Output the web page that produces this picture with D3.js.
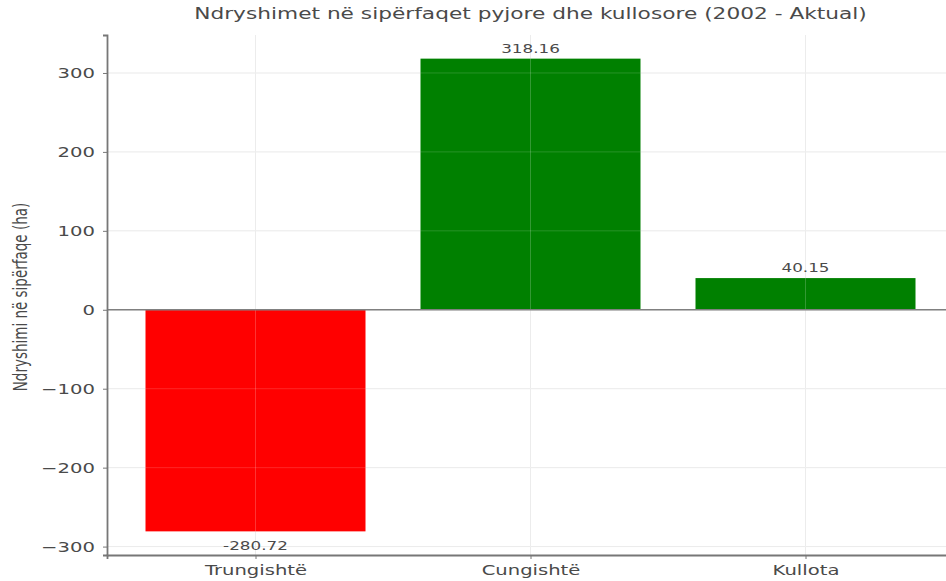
<!DOCTYPE html>
<html>
<head>
<meta charset="utf-8">
<script src="https://cdn.jsdelivr.net/npm/d3@7"></script>
<style>
  body { margin: 0; background: #fff; }
  text { font-family: "DejaVu Sans", sans-serif; fill: #4a4a4a; }
</style>
</head>
<body>
<svg id="chart" width="946" height="581"></svg>
<script>
// data
var categories = ["Trungishtë", "Cungishtë", "Kullota"];
var values = [-280.72, 318.16, 40.15];
var barColors = ["#ff0000", "#008000", "#008000"];
var yTicks = [-300, -200, -100, 0, 100, 200, 300];

var svg = d3.select("#chart");
// plot box (the source image is stretched sideways, so text gets sx)
var pl = 107, pr = 954, pt = 35, pb = 555, sx = 1.4;

// matplotlib-like auto margins (5%)
var lo = d3.min(values), hi = d3.max(values), pad = (hi - lo) * 0.05;
var y = d3.scaleLinear().domain([lo - pad, hi + pad]).range([pb, pt]);
var x = d3.scaleLinear().domain([-0.54, 2.54]).range([pl, pr]);
var bw = x(0.8) - x(0);

// grid
svg.append("g").selectAll("line").data(yTicks).enter().append("line")
  .attr("x1", pl).attr("x2", pr)
  .attr("y1", function(d) { return y(d); }).attr("y2", function(d) { return y(d); })
  .attr("stroke", "#e8e8e8").attr("stroke-width", 1);
svg.append("g").selectAll("line").data(categories).enter().append("line")
  .attr("y1", pt).attr("y2", pb)
  .attr("x1", function(d, i) { return x(i); }).attr("x2", function(d, i) { return x(i); })
  .attr("stroke", "#e8e8e8").attr("stroke-width", 1);

// bars
svg.append("g").selectAll("rect").data(values).enter().append("rect")
  .attr("x", function(d, i) { return x(i) - bw / 2; })
  .attr("width", bw)
  .attr("y", function(d) { return y(Math.max(0, d)); })
  .attr("height", function(d) { return Math.abs(y(d) - y(0)); })
  .attr("fill", function(d, i) { return barColors[i]; });

// faint grid showing through the bars
svg.append("g").selectAll("line").data(categories).enter().append("line")
  .attr("y1", pt).attr("y2", pb)
  .attr("x1", function(d, i) { return x(i); }).attr("x2", function(d, i) { return x(i); })
  .attr("stroke", "#ffffff").attr("stroke-opacity", 0.2);
svg.append("g").selectAll("line").data(yTicks).enter().append("line")
  .attr("x1", pl).attr("x2", pr)
  .attr("y1", function(d) { return y(d); }).attr("y2", function(d) { return y(d); })
  .attr("stroke", "#ffffff").attr("stroke-opacity", 0.15);

// zero line
svg.append("line").attr("x1", pl).attr("x2", pr)
  .attr("y1", y(0)).attr("y2", y(0))
  .attr("stroke", "#808080").attr("stroke-width", 1.6);

// value labels
svg.append("g").selectAll("text").data(values).enter().append("text")
  .attr("transform", function(d, i) {
    var ty = d >= 0 ? y(d) - 6 : y(d) + 19;
    return "translate(" + x(i) + "," + ty + ") scale(" + sx + ",1)";
  })
  .attr("text-anchor", "middle")
  .attr("font-size", 12)
  .text(function(d) { return d.toFixed(2); });

// axes
var yAxis = d3.axisLeft(y).tickValues(yTicks).tickSize(4)
  .tickFormat(function(d) { return d < 0 ? "\u2212" + Math.abs(d) : d; });
var gy = svg.append("g").attr("transform", "translate(" + pl + ",0)").call(yAxis);
gy.select(".domain").attr("stroke", "#777").attr("stroke-width", 1.8);
gy.selectAll(".tick line").attr("stroke", "#777");
gy.selectAll(".tick text").attr("font-size", 14).attr("font-family", "DejaVu Sans")
  .style("fill", "#4a4a4a").attr("x", -12 / sx).attr("transform", "scale(" + sx + ",1)");

var xAxis = d3.axisBottom(x).tickValues([0, 1, 2]).tickSize(4).tickPadding(6)
  .tickFormat(function(d) { return categories[d]; });
var gx = svg.append("g").attr("transform", "translate(0," + pb + ")").call(xAxis);
gx.select(".domain").attr("stroke", "#777").attr("stroke-width", 1.8);
gx.selectAll(".tick line").attr("stroke", "#777");
gx.selectAll(".tick text").attr("font-size", 14).attr("font-family", "DejaVu Sans")
  .style("fill", "#4a4a4a").attr("transform", "scale(" + sx + ",1)");

// title and y label
svg.append("text")
  .attr("transform", "translate(" + (pl + pr) / 2 + ",19) scale(" + sx + ",1)")
  .attr("text-anchor", "middle").attr("font-size", 15.5)
  .text("Ndryshimet në sipërfaqet pyjore dhe kullosore (2002 - Aktual)");

svg.append("text")
  .attr("transform", "translate(27," + ((pt + pb) / 2 + 2) + ") scale(" + sx + ",1) rotate(-90)")
  .attr("text-anchor", "middle").attr("font-size", 13.5)
  .text("Ndryshimi në sipërfaqe (ha)");
</script>
</body>
</html>
